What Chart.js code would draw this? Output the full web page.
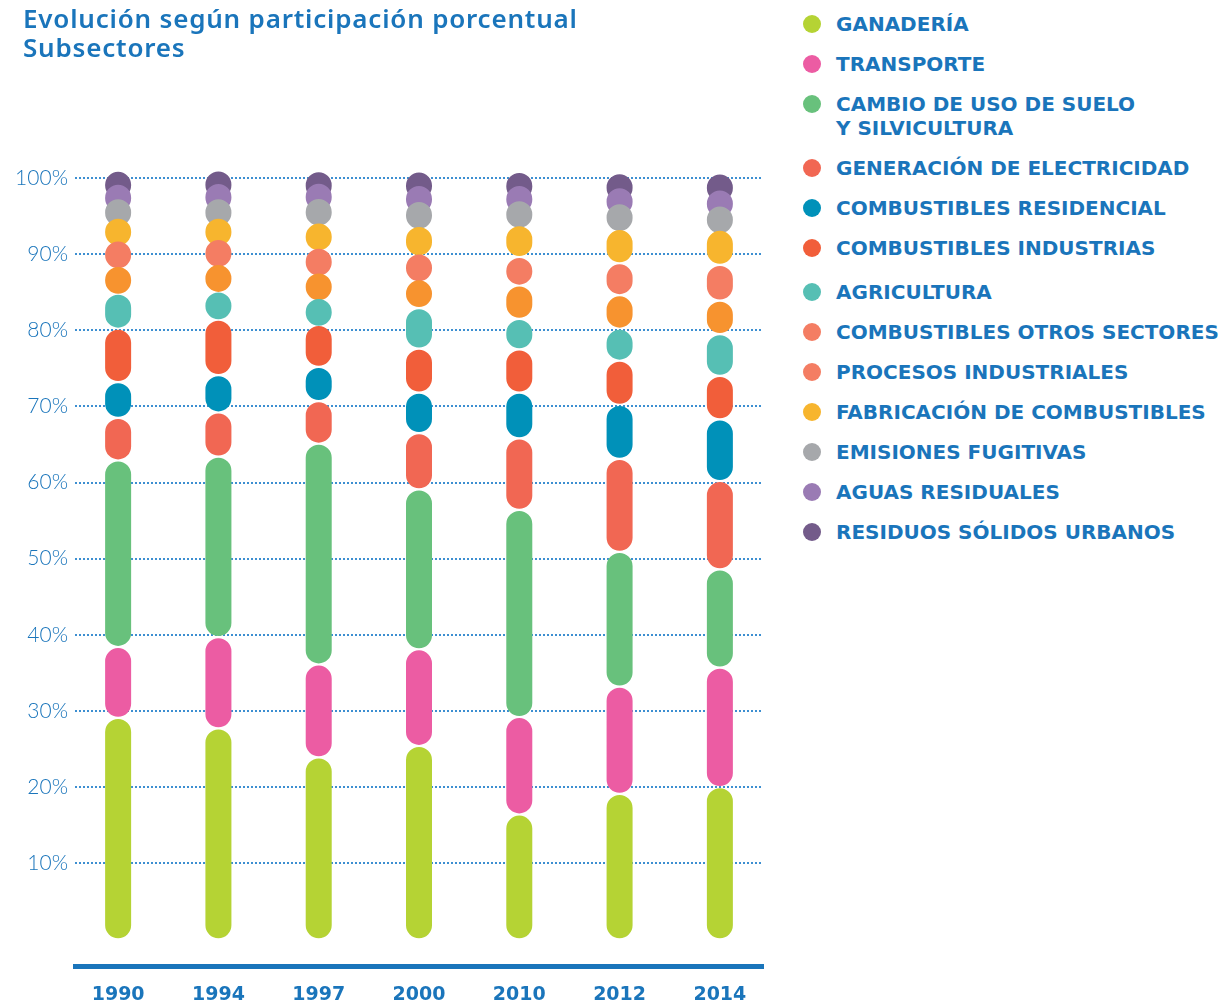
<!DOCTYPE html>
<html>
<head>
<meta charset="utf-8">
<script src="https://cdn.jsdelivr.net/npm/chart.js@4.4.1/dist/chart.umd.min.js"></script>
<style>
  html, body { margin: 0; padding: 0; background: #fff; }
  body { width: 1220px; height: 1004px; position: relative; overflow: hidden; }
  #chart { position: absolute; left: 0; top: 0; }
  h1 { position: absolute; left: 23px; top: 4px; margin: 0; z-index: 2; letter-spacing: 0.8px;
       font: 600 26px/29px "Noto Sans", sans-serif; color: #1a75bb; }
  #legend { position: absolute; left: 803px; top: 12px; margin: 0; padding: 0; list-style: none; }
  #legend li { position: relative; padding-left: 33px; margin-bottom: 16px; white-space: pre-line;
               font: bold 20px/24px "DejaVu Sans", sans-serif; color: #1a75bb; }
  #legend li.extra { margin-top: 20px; }
  #legend li span { position: absolute; left: 0; top: 3px; width: 18px; height: 18px; border-radius: 50%; }
</style>
</head>
<body>
<h1>Evolución según participación porcentual<br>Subsectores</h1>
<ul id="legend"></ul>
<canvas id="chart" width="780" height="1004"></canvas>
<script>
// ---------- Datos (% de participación por año) ----------
const years = ['1990', '1994', '1997', '2000', '2010', '2012', '2014'];
const yTicks = [10, 20, 30, 40, 50, 60, 70, 80, 90, 100];

const ganaderia     = [29.1, 27.7, 23.9, 25.4, 16.4, 19.1, 20.0];
const transporte    = [ 9.3, 12.0, 12.2, 12.7, 12.8, 14.1, 15.7];
const cambioUso     = [24.5, 23.7, 29.0, 21.0, 27.2, 17.7, 12.9];
const generacion    = [ 5.6,  5.8,  5.6,  7.4,  9.4, 12.2, 11.6];
const residencial   = [ 4.7,  4.9,  4.5,  5.3,  6.0,  7.1,  8.1];
const industrias    = [ 7.0,  7.3,  5.5,  5.8,  5.7,  5.8,  5.7];
const agricultura   = [ 4.6,  3.6,  3.3,  5.3,  4.0,  4.2,  5.5];
const otrosSectores = [ 3.5,  3.6,  3.4,  3.8,  4.4,  4.4,  4.4];
const procesos      = [ 3.2,  3.0,  3.1,  3.0,  3.7,  4.2,  4.7];
const fabricacion   = [ 2.8,  2.6,  3.5,  4.0,  4.2,  4.5,  4.6];
const emisiones     = [ 2.3,  2.5,  3.0,  2.8,  2.8,  3.0,  2.6];
const aguas         = [ 1.5,  1.5,  1.0,  1.4,  1.2,  1.2,  1.6];
const residuos      = [ 1.9,  1.8,  2.0,  2.1,  2.2,  2.5,  2.6];

const series = [ganaderia, transporte, cambioUso, generacion, residencial, industrias,
                agricultura, otrosSectores, procesos, fabricacion, emisiones, aguas, residuos];

const labels = [
  'GANADERÍA', 'TRANSPORTE', 'CAMBIO DE USO DE SUELO\nY SILVICULTURA',
  'GENERACIÓN DE ELECTRICIDAD', 'COMBUSTIBLES RESIDENCIAL', 'COMBUSTIBLES INDUSTRIAS',
  'AGRICULTURA', 'COMBUSTIBLES OTROS SECTORES', 'PROCESOS INDUSTRIALES',
  'FABRICACIÓN DE COMBUSTIBLES', 'EMISIONES FUGITIVAS', 'AGUAS RESIDUALES',
  'RESIDUOS SÓLIDOS URBANOS'
];

// ---------- Estilo ----------
const colors = ['#b5d334', '#ec5ca3', '#68c17c', '#f16753', '#0091b9', '#f15e3a',
                '#56bfb4', '#f7932f', '#f47d63', '#f7b52e', '#a6a8ab', '#9a7bb4', '#735b8a'];
const legendColors = ['#b5d334', '#ec5ca3', '#68c17c', '#f16753', '#0091b9', '#f15e3a',
                      '#56bfb4', '#f47d63', '#f47d63', '#f7b52e', '#a6a8ab', '#9a7bb4', '#735b8a'];
const BLUE = '#1a75bb';
const BAR_W = 26;     // grosor de cada "píldora"
const CAP = 1.85;     // lo que ocupa el extremo redondeado, en puntos del eje (%)

// cada segmento es una línea vertical con extremos redondeados;
// los valores pequeños quedan como un círculo centrado en su tramo
function segmentPoints(k) {
  const pts = [];
  years.forEach((_, i) => {
    let lo = 0;
    for (let j = 0; j < k; j++) lo += series[j][i];
    const hi = lo + series[k][i];
    const mid = (lo + hi) / 2;
    const half = Math.max(0.05, (hi - lo) / 2 - CAP);
    pts.push({ x: i, y: mid - half }, { x: i, y: mid + half }, { x: i, y: null });
  });
  return pts;
}

// ---------- Leyenda ----------
document.getElementById('legend').innerHTML = labels.map((l, k) =>
  `<li class="${l === 'AGRICULTURA' ? 'extra' : ''}"><span style="background:${legendColors[k]}"></span>${l}</li>`
).join('');

// ---------- Gráfico ----------
new Chart(document.getElementById('chart'), {
  type: 'line',
  data: {
    datasets: series.map((s, k) => ({
      label: labels[k],
      data: segmentPoints(k),
      borderColor: colors[k],
      borderWidth: BAR_W,
      borderCapStyle: 'round',
      borderJoinStyle: 'round',
      pointRadius: 0,
      spanGaps: false,
      fill: false,
      clip: false
    }))
  },
  options: {
    responsive: false,
    animation: false,
    events: [],
    layout: { padding: { top: 178, right: 17, left: 0, bottom: 0 } },
    plugins: { legend: { display: false }, tooltip: { enabled: false } },
    scales: {
      x: {
        type: 'linear', min: -0.43, max: 6.43,
        afterBuildTicks: s => { s.ticks = years.map((_, i) => ({ value: i })); },
        afterFit: s => { s.height = 38; },
        ticks: {
          autoSkip: false, maxRotation: 0, padding: 18, color: BLUE,
          font: { family: 'DejaVu Sans', weight: 'bold', size: 19 },
          callback: v => years[v]
        },
        grid: { display: false, drawTicks: false },
        border: { display: true, color: BLUE, width: 5 }
      },
      y: {
        min: -3.5, max: 100,
        afterBuildTicks: s => { s.ticks = yTicks.map(v => ({ value: v })); },
        afterFit: s => { s.width = 75; },
        ticks: {
          padding: 7, color: BLUE,
          font: { family: 'Lato', weight: '300', size: 21 },
          callback: v => v + '%'
        },
        grid: { color: '#3d8fd1', lineWidth: 2, drawTicks: false },
        border: { display: false, dash: [2, 2] }
      }
    }
  }
});
</script>
</body>
</html>
